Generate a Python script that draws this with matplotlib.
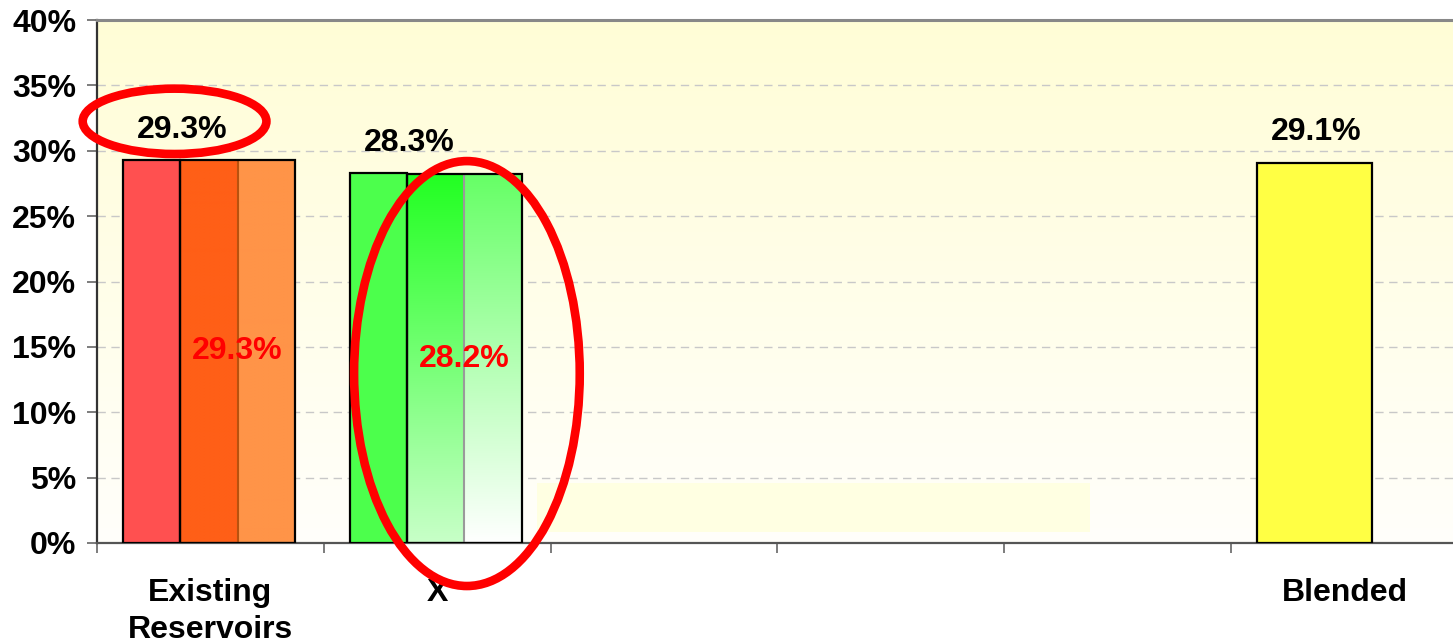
import numpy as np
import matplotlib.pyplot as plt
from matplotlib.patches import Ellipse, Rectangle
from matplotlib.colors import to_rgb

plt.rcParams['font.family'] = ['Liberation Sans', 'DejaVu Sans']
plt.rcParams['font.weight'] = 'bold'

# data
categories = ["Existing\nReservoirs", "X", "", "", "", "Blended"]
group_pos = [0, 1]                 # categories holding the two-bar groups
narrow_values = [29.3, 28.3]       # first (narrow) bar of each group
wide_values = [29.3, 28.2]         # second (wide, two-tone) bar of each group
blended_pos = 5
blended_value = 29.1
y_ticks = [0, 5, 10, 15, 20, 25, 30, 35, 40]

# colours
narrow_colors = ["#FF5050", "#4CFF4C"]
wide_left = [("#FF5F17", "#FF5F17"), ("#22FF22", "#C8FFC8")]   # (top, bottom)
wide_right = [("#FF9448", "#FF9448"), ("#66FF66", "#FFFFFF")]
split_colors = ["#B8520F", "#9A9A9A"]
blended_color = "#FFFF44"

FS = 23
NARROW_OFF, NARROW_W = -0.385, 0.251
WIDE_W = 0.507


def gradient_rect(ax, x0, w, h, top, bottom, z=2):
    t, b = np.array(to_rgb(top)), np.array(to_rgb(bottom))
    frac = np.linspace(0, 1, 256)[:, None]
    img = t[None, :] * (1 - frac) + b[None, :] * frac
    img = np.repeat(img[:, None, :], 2, axis=1)
    ax.imshow(img, extent=[x0, x0 + w, 0, h], aspect='auto', origin='upper',
              zorder=z, interpolation='bilinear')


fig = plt.figure(figsize=(14.53, 6.44), dpi=100)
ax = fig.add_axes([97 / 1453, 1 - 543 / 644, 1 - 97 / 1453, (543 - 20) / 644])

# plot background gradient
bg = np.linspace(0, 1, 256)[:, None]
top_bg, bot_bg = np.array(to_rgb("#FFFDD6")), np.array(to_rgb("#FFFFFB"))
bg_img = top_bg * (1 - bg) + bot_bg * bg
ax.imshow(np.repeat(bg_img[:, None, :], 2, axis=1), extent=[0, 1, 0, 1],
          transform=ax.transAxes, aspect='auto', zorder=0)
ax.add_patch(Rectangle((1.44, 0.85), 2.44, 3.75, facecolor="#FFFFE2",
                       edgecolor='none', zorder=0.5))

for gx, nv, wv, nc, wl, wr, sc in zip(group_pos, narrow_values, wide_values,
                                     narrow_colors, wide_left, wide_right, split_colors):
    # narrow bar
    ax.bar(gx + NARROW_OFF, nv, width=NARROW_W, align='edge', color=nc,
           edgecolor='black', linewidth=1.6, zorder=3)
    # wide bar in two shades
    x0 = gx + NARROW_OFF + NARROW_W
    gradient_rect(ax, x0, WIDE_W / 2, wv, *wl)
    gradient_rect(ax, x0 + WIDE_W / 2, WIDE_W / 2, wv, *wr)
    ax.vlines(x0 + WIDE_W / 2, 0, wv, color=sc, linewidth=1.5, zorder=3)
    ax.bar(x0, wv, width=WIDE_W, align='edge', facecolor='none',
           edgecolor='black', linewidth=1.6, zorder=4)
    # labels
    ax.annotate(f"{nv:.1f}%", (gx - 0.123, nv), xytext=(0, 16),
                textcoords='offset points', ha='center', va='baseline',
                fontsize=FS, fontweight='bold', color='black', zorder=6)
    ax.text(x0 + WIDE_W / 2, wv / 2, f"{wv:.1f}%", ha='center', va='center',
            fontsize=FS, fontweight='bold', color='#FF0000', zorder=6)

ax.bar(blended_pos + NARROW_OFF, blended_value, width=WIDE_W, align='edge',
       color=blended_color, edgecolor='black', linewidth=1.6, zorder=3)
ax.annotate(f"{blended_value:.1f}%", (blended_pos - 0.123, blended_value),
            xytext=(0, 16), textcoords='offset points', ha='center',
            va='baseline', fontsize=FS, fontweight='bold', color='black', zorder=6)

# red call-out ellipses
ax.add_patch(Ellipse((group_pos[0] - 0.158, narrow_values[0] + 2.95), 0.81, 5.0,
                     fill=False, edgecolor='#FF0000', linewidth=6.2,
                     clip_on=False, zorder=7))
ax.add_patch(Ellipse((group_pos[1] + 0.131, 12.96), 0.995, 32.5,
                     fill=False, edgecolor='#FF0000', linewidth=6.2,
                     clip_on=False, zorder=7))

# axes
ax.set_xlim(-0.5, -0.5 + 1356 / 226.8)
ax.set_ylim(0, 40)
ax.set_yticks(y_ticks)
ax.set_yticklabels([f"{v}%" for v in y_ticks])
ax.tick_params(axis='y', length=7, width=1.2, color='#666666', pad=8,
               labelsize=FS)
ax.set_xticks(np.arange(len(categories)) - 0.5)
ax.set_xticklabels([])
ax.set_xticks(np.arange(len(categories)), minor=True)
ax.set_xticklabels(categories, minor=True, fontsize=FS, fontweight='bold',
                   linespacing=1.3)
ax.tick_params(axis='x', which='major', length=7, width=1.2, color='#666666',
               direction='out')
ax.tick_params(axis='x', which='minor', length=0, pad=25)
for lbl in ax.get_yticklabels():
    lbl.set_fontweight('bold')

for y in y_ticks[1:-1]:
    ax.axhline(y, color='#C8C8C8', linewidth=1, linestyle=(0, (6, 4)), zorder=1)

ax.spines['right'].set_visible(False)
ax.spines['top'].set_color('#888888')
ax.spines['top'].set_linewidth(2.2)
ax.spines['left'].set_color('#333333')
ax.spines['left'].set_linewidth(1.6)
ax.spines['bottom'].set_color('#555555')
ax.spines['bottom'].set_linewidth(1.6)

fig.savefig("out.png", dpi=100)
